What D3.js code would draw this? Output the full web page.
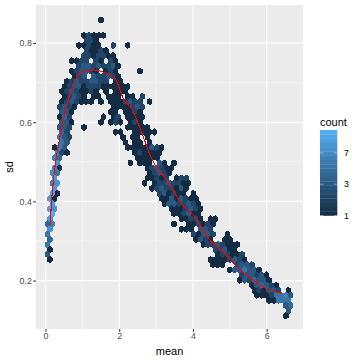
<!DOCTYPE html>
<html>
<head>
<meta charset="utf-8">
<script src="https://d3js.org/d3.v7.min.js"></script>
<style>
  html, body { margin: 0; padding: 0; background: #fff; }
  text { font-family: "Liberation Sans", sans-serif; }
</style>
</head>
<body>
<div id="chart"></div>
<script>
// hexbin cells, one entry per row of bins: row sd, then the mean and count of each filled bin
const rowSd = [.858,.819,.806,.794,.781,.768,.755,.742,.729,.716,.703,.690,.678,.665,.652,.639,.626,.613,.600,.587,.575,.562,.549,.536,.523,.510,.497,.484,.472,.459,.446,.433,.420,.407,.394,.381,.369,.356,.343,.330,.317,.304,.291,.278,.266,.253,.240,.227,.214,.201,.188,.175,.163,.150,.137,.124,.111];
const rowMeans = [
  [1.505],
  [1.043,1.175,1.307,1.439,1.571],
  [1.109,1.241,1.373],
  [.911,1.043,1.175,1.307,1.439,1.835,2.231],
  [1.109,1.241,1.373,1.505,1.637],
  [1.043,1.175,1.307,1.439,1.571,1.703,1.835],
  [.713,.845,.977,1.109,1.373,1.505,1.769,1.901],
  [.911,1.043,1.175,1.307,1.439,1.571,1.703,1.835,1.967],
  [.713,.845,.977,1.109,1.241,1.373,1.637,1.769,1.901,2.561],
  [.779,.911,1.043,1.307,1.439,1.571,1.703,1.835,1.967],
  [.581,.713,.845,.977,1.109,1.241,1.373,1.505,1.637,1.901,2.033],
  [.515,.647,.779,.911,1.043,1.175,1.307,1.439,1.571,1.703,1.835,1.967,2.099,2.231],
  [.449,.581,.713,.845,.977,1.109,1.241,1.373,1.637,1.901,2.033,2.165],
  [.515,.647,.779,.911,1.043,1.307,1.439,1.703,1.835,1.967,2.231,2.363,2.627],
  [.449,.581,.713,.845,.977,1.109,1.241,1.505,1.769,1.901,2.033,2.165,2.297,2.429,2.561,2.825],
  [.383,.515,.647,.779,1.835,1.967,2.099,2.231,2.363,2.495,2.627],
  [.449,.581,.713,1.769,1.901,2.165,2.297,2.429,2.561],
  [.383,.515,.647,1.571,1.835,1.967,2.231,2.363,2.495,2.627],
  [.449,.581,.713,1.505,1.769,1.901,2.033,2.297,2.429,2.561],
  [.383,.515,.647,1.043,2.231,2.363,2.495,2.627,2.759],
  [.449,.581,1.901,2.033,2.429,2.561,2.693,2.825,2.957],
  [.383,.515,.647,2.099,2.363,2.495,2.759],
  [.449,.581,2.165,2.429,2.561,2.825],
  [.251,.383,.515,2.231,2.363,2.495,2.627,2.759,2.891,3.023,3.155],
  [.317,.449,.581,2.429,2.561,2.693,2.825,2.957,3.089],
  [.251,.383,2.495,2.627,2.759,2.891,3.023],
  [.317,2.297,2.561,2.693,2.825,3.089,3.221,3.485],
  [.251,.383,2.759,2.891,3.023,3.155,3.287,3.419],
  [.185,.317,2.825,2.957,3.089,3.221,3.353],
  [.251,2.759,2.891,3.023,3.155,3.287,3.551,3.683,3.815],
  [.185,.317,2.693,2.957,3.089,3.221,3.353,3.485,3.617,3.749,3.881],
  [.251,2.891,3.023,3.155,3.287,3.419,3.551,3.683,3.815],
  [.185,.317,3.089,3.221,3.353,3.485,3.617,3.749,4.013],
  [.119,.251,3.155,3.287,3.419,3.551,3.683,3.815,3.947,4.079],
  [.185,3.221,3.353,3.485,3.617,3.749,3.881,4.013,4.145],
  [.119,.251,3.419,3.551,3.683,3.815,3.947,4.079,4.211],
  [.185,3.485,3.617,3.749,3.881,4.013,4.145],
  [.119,3.683,3.815,3.947,4.079,4.211,4.475,4.607],
  [.053,.185,3.485,3.881,4.013,4.145,4.277,4.409,4.541],
  [.119,3.683,3.815,3.947,4.211,4.343,4.475],
  [.053,4.013,4.145,4.277,4.409,4.541,4.937],
  [.119,4.079,4.211,4.343,4.475,4.871,5.003],
  [.053,4.277,4.409,4.541,4.673,4.805,4.937,5.069,5.201],
  [.119,4.607,4.739,4.871,5.003,5.135],
  [.053,4.673,4.805,4.937,5.069,5.201,5.333],
  [.119,4.475,4.607,4.739,4.871,5.003,5.135,5.267,5.399],
  [4.541,4.673,4.805,5.201,5.333,5.465,5.597],
  [5.003,5.135,5.267,5.399,5.531,5.663,5.795],
  [5.333,5.465,5.597,5.729,5.861,5.993],
  [5.267,5.399,5.531,5.663,5.795,5.927,6.059],
  [5.597,5.729,5.861,5.993,6.125,6.257],
  [5.663,5.795,5.927,6.059,6.191,6.323,6.587],
  [5.729,5.861,5.993,6.125,6.257,6.389,6.521,6.653],
  [6.059,6.191,6.323,6.455,6.587],
  [6.521,6.653],
  [6.587],
  [6.521]
];
const rowCounts = [
  [1],
  [1,2,1,1,1],
  [2,2,1],
  [1,1,2,1,1,2,1],
  [2,1,1,2,1],
  [2,2,1,2,2,1,1],
  [1,1,2,2,2,1,2,1],
  [2,3,3,2,3,2,2,3,1],
  [1,2,3,3,2,1,1,2,1,1],
  [1,2,3,3,2,2,3,2,1],
  [1,2,3,2,2,3,3,2,2,1,1],
  [1,2,3,3,1,2,2,2,1,1,1,1,1,1],
  [1,2,3,2,1,1,2,1,1,1,1,1],
  [1,2,3,2,1,1,1,1,1,1,1,1,2],
  [1,2,3,2,1,1,1,1,1,1,1,2,3,2,2,1],
  [2,3,2,1,1,1,1,1,2,3,2],
  [3,3,1,1,1,1,1,2,1],
  [1,4,2,1,1,2,1,1,1,1],
  [3,3,1,1,1,2,1,1,2,1],
  [3,3,2,1,1,1,1,1,1],
  [4,2,1,1,1,1,1,1,1],
  [5,3,2,1,1,1,1],
  [5,3,1,1,1,1],
  [1,6,3,1,1,1,1,1,3,2,1],
  [6,2,1,1,2,1,1,1,1],
  [6,4,1,1,1,1,1],
  [8,1,1,1,1,3,1,1],
  [6,1,1,2,3,2,1,1],
  [7,5,1,2,3,2,1],
  [9,1,1,2,1,2,1,2,2],
  [6,8,1,1,2,2,3,2,2,1,1],
  [9,1,2,3,2,2,1,3,1],
  [10,1,2,3,1,2,1,1,1],
  [9,1,1,1,3,1,3,2,1,1],
  [9,1,3,3,2,2,3,2,1],
  [10,8,1,1,1,2,3,2,1],
  [11,1,1,2,3,1,1],
  [9,1,1,2,2,1,1,1],
  [4,6,1,1,1,2,1,2,1],
  [8,1,1,1,3,3,2],
  [5,2,1,3,3,2,1],
  [4,1,3,2,1,1,1],
  [5,1,2,2,3,2,1,1,1],
  [1,2,2,3,1,1],
  [3,1,2,2,1,1,2],
  [1,1,1,1,1,2,3,2,1],
  [1,1,1,2,3,3,2],
  [1,3,3,5,3,3,1],
  [2,3,3,2,3,1],
  [1,3,2,4,3,3,1],
  [1,3,4,3,2,1],
  [1,2,1,3,3,2,1],
  [1,1,1,2,5,5,6,3],
  [1,1,5,5,5],
  [3,4],
  [3],
  [1]
];

// loess curve
const smoothMean = [.122,.168,.258,.393,.483,.618,.754,.890,1.071,1.296,1.524,1.749,1.912,2.002,2.129,2.338,2.474,2.653,2.834,3.059,3.287,3.458,3.648,4.001,4.272,4.462,4.915,5.186,5.628,5.999,6.406];
const smoothSd = [.340,.404,.488,.563,.606,.656,.694,.719,.730,.732,.728,.719,.707,.686,.656,.635,.606,.563,.517,.479,.454,.429,.399,.366,.328,.302,.265,.235,.202,.179,.168];

const xTicks = [0, 2, 4, 6];
const xMinor = [1, 3, 5];
const yTicks = [0.2, 0.4, 0.6, 0.8];
const yMinor = [0.3, 0.5, 0.7];
const legendBreaks = [1, 3, 7];
const legendMax = 12.3;

var width = 360, height = 360;
var panel = { left: 36, right: 303, top: 5, bottom: 329 };
// a touch over the bin size so crisp edges leave no seams between hexes
var hexHalfW = 0.072, hexSide = 0.0092;

var svg = d3.select("#chart").append("svg")
  .attr("width", width)
  .attr("height", height)
  .style("display", "block");

var xscale = d3.scaleLinear().domain([0, 6]).range([45.5, 266.7]);
var yscale = d3.scaleLinear().domain([0.2, 0.8]).range([280.6, 43]);

// count colours are log(count + 1), blended in Lab as ggplot does
var colorT = d3.scaleLinear().domain([Math.log(2), Math.log(legendMax + 1)]).range([0, 1]);
var blend = d3.interpolateLab("#132B43", "#56B1F7");
var color = (c) => blend(colorT(Math.log(c + 1)));

svg.append("rect")
  .attr("x", panel.left).attr("y", panel.top)
  .attr("width", panel.right - panel.left)
  .attr("height", panel.bottom - panel.top)
  .attr("fill", "#EBEBEB");

// grid
function vgrid(values, w) {
  svg.append("g").selectAll("line").data(values).enter().append("line")
    .attr("x1", (d) => xscale(d)).attr("x2", (d) => xscale(d))
    .attr("y1", panel.top).attr("y2", panel.bottom)
    .attr("stroke", "#fff").attr("stroke-width", w);
}
function hgrid(values, w) {
  svg.append("g").selectAll("line").data(values).enter().append("line")
    .attr("y1", (d) => yscale(d)).attr("y2", (d) => yscale(d))
    .attr("x1", panel.left).attr("x2", panel.right)
    .attr("stroke", "#fff").attr("stroke-width", w);
}
vgrid(xMinor, 0.53);
hgrid(yMinor, 0.53);
vgrid(xTicks, 1.07);
hgrid(yTicks, 1.07);

// hexes
var cells = [];
rowSd.forEach(function (sd, i) {
  rowMeans[i].forEach(function (m, j) {
    cells.push({ mean: m, sd: sd, count: rowCounts[i][j] });
  });
});

function hexPath(d) {
  var pts = [
    [d.mean, d.sd + hexSide],
    [d.mean + hexHalfW, d.sd + hexSide / 2],
    [d.mean + hexHalfW, d.sd - hexSide / 2],
    [d.mean, d.sd - hexSide],
    [d.mean - hexHalfW, d.sd - hexSide / 2],
    [d.mean - hexHalfW, d.sd + hexSide / 2]
  ];
  return "M" + pts.map((p) => xscale(p[0]).toFixed(2) + "," + yscale(p[1]).toFixed(2)).join("L") + "Z";
}

// the reference png has no antialiasing on its hexes
svg.append("g").selectAll("path").data(cells).enter().append("path")
  .attr("d", hexPath)
  .attr("fill", (d) => color(d.count))
  .attr("shape-rendering", "crispEdges");

// smooth line
var line = d3.line().x((d) => xscale(d[0])).y((d) => yscale(d[1])).curve(d3.curveMonotoneX);
svg.append("path")
  .datum(smoothMean.map((m, i) => [m, smoothSd[i]]))
  .attr("d", line)
  .attr("fill", "none")
  .attr("stroke", "#FF0000")
  .attr("stroke-width", 1.07)
  .attr("shape-rendering", "crispEdges");

// axes
var xaxis = d3.axisBottom(xscale).tickValues(xTicks).tickSize(2.7).tickPadding(1.5).tickFormat(d3.format("d"));
var yaxis = d3.axisLeft(yscale).tickValues(yTicks).tickSize(2.7).tickPadding(1.5).tickFormat(d3.format(".1f"));

function styleAxis(g) {
  g.select(".domain").remove();
  g.selectAll("line").attr("stroke", "#333333").attr("stroke-width", 1.07);
  g.selectAll("text").attr("fill", "#4D4D4D").style("font-size", "8.8px").style("font-family", '"Liberation Sans", sans-serif');
}
svg.append("g").attr("transform", "translate(0," + panel.bottom + ")").call(xaxis).call(styleAxis);
svg.append("g").attr("transform", "translate(" + panel.left + ",0)").call(yaxis).call(styleAxis);

svg.append("text")
  .attr("x", (panel.left + panel.right) / 2).attr("y", 355)
  .attr("text-anchor", "middle")
  .style("font-size", "11px")
  .text("mean");

svg.append("text")
  .attr("transform", "translate(13," + (panel.top + panel.bottom) / 2 + ") rotate(-90)")
  .attr("text-anchor", "middle")
  .style("font-size", "11px")
  .text("sd");

// legend, a colour bar of 20 bands
var barX = 320, barW = 17.3;
var legendY = d3.scaleLinear().domain([Math.log(2), Math.log(legendMax + 1)]).range([215.5, 130]);
var bands = d3.range(20).map((i) => i / 20);
var bandH = 85.5 / 20;

svg.append("g").selectAll("rect").data(bands).enter().append("rect")
  .attr("x", barX)
  .attr("y", (t) => 215.5 - (t + 0.05) * 85.5)
  .attr("width", barW)
  .attr("height", bandH + 0.3)
  .attr("fill", (t) => blend(t + 0.025));

legendBreaks.forEach(function (b) {
  var y = legendY(Math.log(b + 1));
  svg.append("line").attr("x1", barX).attr("x2", barX + 3.5).attr("y1", y).attr("y2", y)
    .attr("stroke", "#fff").attr("stroke-width", 0.5).attr("opacity", 0.8);
  svg.append("line").attr("x1", barX + barW - 3.5).attr("x2", barX + barW).attr("y1", y).attr("y2", y)
    .attr("stroke", "#fff").attr("stroke-width", 0.5).attr("opacity", 0.8);
  svg.append("text").attr("x", 344).attr("y", y + 3.1)
    .style("font-size", "8.8px").attr("fill", "#000").text(b);
});

svg.append("text").attr("x", 320).attr("y", 126)
  .style("font-size", "11px").text("count");
</script>
</body>
</html>
